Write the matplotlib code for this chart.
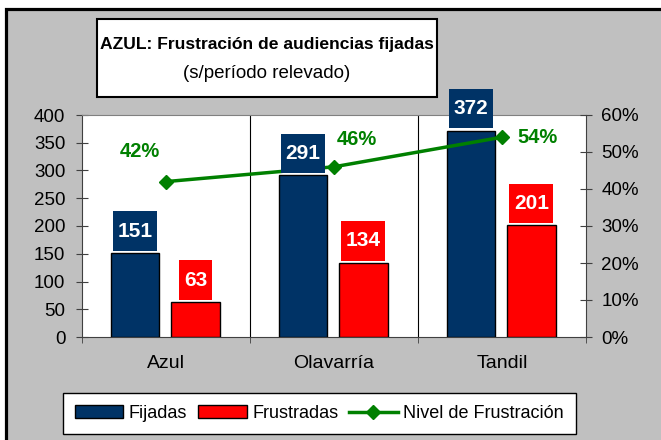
import matplotlib.pyplot as plt
import matplotlib.patches as mpatches
from matplotlib.lines import Line2D
from matplotlib.path import Path
import numpy as np

plt.rcParams['font.family'] = ['Liberation Sans', 'DejaVu Sans']

# datos
ciudades = ['Azul', 'Olavarría', 'Tandil']
fijadas = [151, 291, 372]
frustradas = [63, 134, 201]
nivel = [0.42, 0.46, 0.54]

navy = '#003366'
rojo = '#ff0000'
verde = '#008000'
gris = '#c0c0c0'

fig = plt.figure(figsize=(6.61, 4.40), dpi=100, facecolor='white')

# fondo gris con borde negro
fondo = mpatches.Rectangle((5.5 / 661, -0.1), 1.2, 1.1 - 9.5 / 440, transform=fig.transFigure,
                           facecolor=gris, edgecolor='black', linewidth=2.3, zorder=-10)
fig.patches.append(fondo)

# caja del titulo
caja = mpatches.Rectangle((97 / 661, 1 - 97 / 440), 340 / 661, 78 / 440, transform=fig.transFigure,
                          facecolor='white', edgecolor='black', linewidth=1.5, zorder=-5)
fig.patches.append(caja)
fig.text(267 / 661, 1 - 45 / 440, 'AZUL: Frustración de audiencias fijadas', ha='center', va='center',
         fontsize=12.6, fontweight='bold')
fig.text(267 / 661, 1 - 73 / 440, '(s/período relevado)', ha='center', va='center', fontsize=13.5)

ax = fig.add_axes([82 / 661, 103 / 440, 504 / 661, 222 / 440])
ax.set_facecolor('white')
x = np.arange(len(ciudades))

ax.bar(x - 0.185, fijadas, width=0.29, color=navy, edgecolor='black', linewidth=1, zorder=3)
ax.bar(x + 0.175, frustradas, width=0.29, color=rojo, edgecolor='black', linewidth=1, zorder=3)

ax.set_xlim(-0.5, 2.5)
ax.set_ylim(0, 400)
ax.set_yticks(range(0, 401, 50))
ax.set_xticks(x)
ax.set_xticklabels(ciudades, fontsize=14)
ax.set_xticks([-0.5, 0.5, 1.5, 2.5], minor=True)
ax.tick_params(axis='x', which='major', length=0, pad=13)
ax.tick_params(axis='x', which='minor', length=4, direction='out', color='#404040')
ax.tick_params(axis='y', length=8, direction='inout', labelsize=13.5, color='#404040', pad=8)
for sep in [0.5, 1.5]:
    ax.axvline(sep, color='black', linewidth=0.8, zorder=1)
ax.spines['top'].set_color('#808080')
ax.spines['left'].set_color('#404040')
ax.spines['bottom'].set_color('#404040')
ax.spines['right'].set_color('#404040')

ax2 = ax.twinx()
ax2.set_ylim(0, 0.6)
ax2.set_yticks(np.arange(0, 0.61, 0.1))
ax2.set_yticklabels([f'{int(round(t * 100))}%' for t in np.arange(0, 0.61, 0.1)])
ax2.tick_params(axis='y', length=8, direction='inout', labelsize=13.5, color='#404040', pad=7)
for s in ax2.spines.values():
    s.set_visible(False)
ax2.plot(x, nivel, color=verde, linewidth=2.5, marker='D', markersize=7, zorder=3)

# etiquetas de porcentaje
offsets = [(-26, 30), (23, 27), (36, 0)]
for xi, v, off in zip(x, nivel, offsets):
    ax2.annotate(f'{int(round(v * 100))}%', (xi, v), xytext=off, textcoords='offset pixels',
                 ha='center', va='center', fontsize=14.5, fontweight='bold', color=verde)


def caja_valor(x0, y0, width, height, mutation_size):
    px = 0.22 * mutation_size
    py = 0.5 * mutation_size
    x0, y0 = x0 - px, y0 - py
    x1, y1 = x0 + width + 2 * px, y0 + height + 2 * py
    return Path([(x0, y0), (x1, y0), (x1, y1), (x0, y1), (x0, y0)], closed=True)


# etiquetas de valores
for xi, v in zip(x - 0.185, fijadas):
    ax2.annotate(str(v), (xi, v), xycoords=ax.transData, xytext=(0, 22), textcoords='offset pixels',
                 ha='center', va='center', fontsize=15, fontweight='bold', color='white',
                 bbox=dict(boxstyle=caja_valor, fc=navy, ec='none'), zorder=4, annotation_clip=False)
for xi, v in zip(x + 0.175, frustradas):
    ax2.annotate(str(v), (xi, v), xycoords=ax.transData, xytext=(0, 22), textcoords='offset pixels',
                 ha='center', va='center', fontsize=15, fontweight='bold', color='white',
                 bbox=dict(boxstyle=caja_valor, fc=rojo, ec='none'), zorder=4, annotation_clip=False)

handles = [mpatches.Patch(facecolor=navy, edgecolor='black', label='Fijadas'),
           mpatches.Patch(facecolor=rojo, edgecolor='black', label='Frustradas'),
           Line2D([], [], color=verde, linewidth=2.5, marker='D', markersize=7, label='Nivel de Frustración')]
leg = fig.legend(handles=handles, loc='center', bbox_to_anchor=(0.483, 0.06), ncol=3, fontsize=13,
                 frameon=True, fancybox=False, edgecolor='black', framealpha=1, handlelength=2.7,
                 handletextpad=0.3, columnspacing=0.6, borderpad=0.65, borderaxespad=0)
leg.get_frame().set_linewidth(1)

plt.savefig('out.png', dpi=100, facecolor=fig.get_facecolor())
